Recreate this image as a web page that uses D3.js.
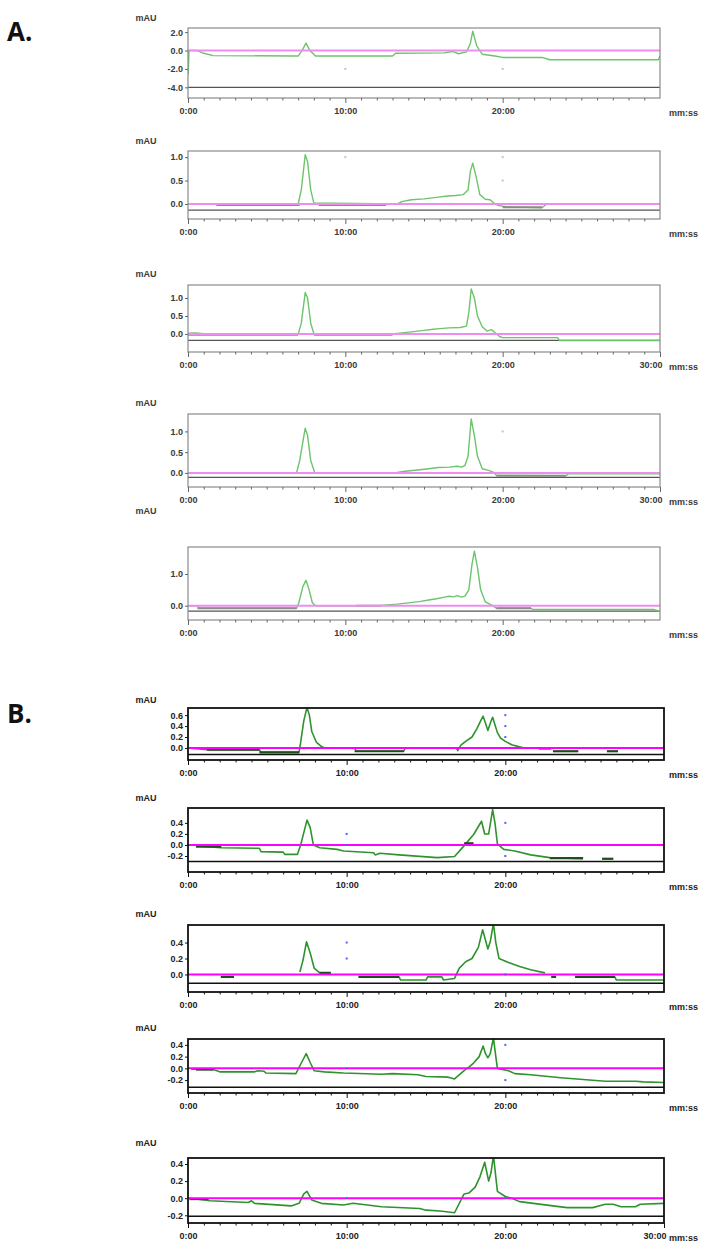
<!DOCTYPE html>
<html>
<head>
<meta charset="utf-8">
<script src="https://cdn.jsdelivr.net/npm/d3@7"></script>
<style>
  body { margin: 0; background: #fff; }
  svg text { font-family: "Liberation Sans", Arial, sans-serif; }
</style>
</head>
<body>
<svg id="chart" width="706" height="1250"></svg>
<script>
// ---- data: [minutes, mAU], null = no trace drawn ----
const traceA1 = [[0,0.1],[0.02,-2.5],[0.06,0.0],[0.6,0.0],[1.0,-0.3],[1.6,-0.55],[7.0,-0.6],[7.25,0.0],[7.5,0.8],[7.75,0.0],[8.1,-0.6],[13.0,-0.6],[13.2,-0.3],[16.3,-0.25],[16.8,-0.1],[17.2,-0.35],[17.7,-0.15],[17.95,0.8],[18.1,2.1],[18.35,0.5],[18.7,-0.4],[19.5,-0.6],[20.0,-0.75],[22.5,-0.75],[23.0,-1.0],[29.9,-1.0],[30,-0.6]];
const traceA2 = [[0,0],[7.0,0],[7.2,0.3],[7.45,1.05],[7.6,0.9],[7.8,0.3],[8.0,0.02],[13.3,0],[13.6,0.05],[14.2,0.09],[15.0,0.11],[15.8,0.14],[16.5,0.17],[17.0,0.18],[17.5,0.2],[17.8,0.3],[17.95,0.7],[18.1,0.87],[18.3,0.6],[18.55,0.2],[18.9,0.1],[19.2,0.09],[19.4,0.03],[19.7,-0.03],[20.2,-0.06],[22.5,-0.08],[22.8,0],[30,0]];
const traceA3 = [[0,0.02],[0.5,0.03],[1.0,0.01],[2.0,-0.01],[7.0,-0.01],[7.2,0.3],[7.45,1.15],[7.6,1.0],[7.8,0.3],[8.0,0.01],[12.0,-0.01],[13.0,0.0],[13.6,0.03],[14.2,0.06],[15.0,0.1],[15.6,0.13],[16.0,0.15],[16.6,0.17],[17.3,0.18],[17.7,0.22],[17.85,0.6],[18.0,1.25],[18.2,1.0],[18.4,0.5],[18.7,0.2],[19.0,0.08],[19.3,0.12],[19.5,0.04],[19.8,-0.07],[20.0,-0.1],[23.5,-0.1],[23.6,-0.18],[30,-0.18]];
const traceA4 = [[0,0],[6.9,0],[7.1,0.3],[7.45,1.08],[7.6,0.9],[7.8,0.3],[8.05,0.01],[12.5,0],[13.1,0.0],[13.8,0.04],[14.6,0.07],[15.3,0.1],[15.9,0.13],[16.6,0.14],[17.1,0.16],[17.4,0.14],[17.6,0.18],[17.8,0.4],[18.0,1.3],[18.2,0.9],[18.4,0.4],[18.7,0.1],[19.1,0.06],[19.4,0.02],[19.6,-0.06],[24.0,-0.07],[24.2,-0.02],[30,-0.02]];
const traceA5 = [[0,0],[0.6,0],[0.7,-0.08],[6.9,-0.08],[7.05,0.1],[7.3,0.6],[7.5,0.8],[7.7,0.5],[7.9,0.1],[8.1,0.0],[10.7,0.0],[12.3,0.01],[13.3,0.05],[14.0,0.09],[14.7,0.13],[15.3,0.18],[15.8,0.22],[16.3,0.27],[16.6,0.3],[16.9,0.28],[17.1,0.32],[17.4,0.27],[17.6,0.3],[17.85,0.5],[18.05,1.3],[18.2,1.72],[18.4,1.2],[18.6,0.5],[18.9,0.12],[19.3,0.02],[19.6,-0.08],[21.8,-0.08],[21.9,-0.12],[29.6,-0.12],[30,-0.18]];

const traceB1 = [[0,0.0],[1.2,-0.03],[4.5,-0.03],[4.6,-0.08],[7.0,-0.08],[7.1,0.1],[7.3,0.5],[7.5,0.74],[7.65,0.6],[7.8,0.3],[8.1,0.1],[8.4,0.03],[8.6,0.0],[10.5,0.0],[10.6,-0.06],[13.6,-0.06],[13.7,0.0],[16.9,0.0],[17.0,-0.05],[17.2,0.05],[17.5,0.12],[17.9,0.2],[18.2,0.35],[18.45,0.5],[18.6,0.58],[18.75,0.45],[18.9,0.32],[19.05,0.45],[19.2,0.56],[19.35,0.42],[19.5,0.28],[19.7,0.18],[20.0,0.12],[20.4,0.06],[20.9,0.02],[21.2,0.0],[30,0.0]];
const traceB2 = [[0.5,-0.02],[2.1,-0.05],[4.5,-0.06],[4.6,-0.12],[6.0,-0.13],[6.1,-0.17],[6.9,-0.17],[7.1,0.0],[7.25,0.17],[7.5,0.45],[7.7,0.32],[7.9,0.0],[8.3,-0.05],[9.4,-0.08],[9.8,-0.11],[11.7,-0.14],[11.8,-0.18],[12.1,-0.15],[13.3,-0.18],[15.7,-0.23],[16.8,-0.21],[17.2,-0.08],[17.5,0.02],[18.0,0.19],[18.5,0.43],[18.7,0.2],[18.95,0.2],[19.2,0.64],[19.35,0.39],[19.5,0.02],[19.9,-0.08],[20.6,-0.11],[21.6,-0.18],[22.8,-0.23],[24.9,-0.25],[25.0,null],[26.1,-0.25],[26.8,-0.25]];
const traceB3 = [[2.07,-0.03],[2.9,-0.03],[3.0,null],[7.05,0.03],[7.25,0.18],[7.47,0.41],[7.7,0.27],[7.95,0.08],[8.3,0.02],[9.0,0.02],[9.1,null],[10.75,-0.03],[13.3,-0.03],[13.4,-0.07],[15.0,-0.07],[15.1,-0.03],[16.0,-0.03],[16.1,-0.07],[16.8,-0.05],[17.1,0.08],[17.5,0.16],[17.9,0.2],[18.3,0.34],[18.57,0.56],[18.9,0.32],[19.06,0.42],[19.25,0.64],[19.4,0.4],[19.6,0.2],[20.2,0.15],[20.9,0.1],[21.6,0.06],[22.5,0.02],[22.6,null],[22.9,-0.03],[23.2,-0.03],[23.3,null],[24.4,-0.03],[26.9,-0.03],[27.0,-0.07],[30,-0.07]];
const traceB4 = [[0.2,-0.015],[1.6,-0.02],[2.0,-0.06],[4.2,-0.06],[4.4,-0.04],[4.8,-0.05],[4.9,-0.08],[6.8,-0.09],[7.1,0.07],[7.45,0.25],[7.7,0.1],[7.95,-0.04],[8.6,-0.06],[9.8,-0.08],[12.2,-0.1],[12.9,-0.09],[14.5,-0.11],[15.0,-0.14],[16.4,-0.15],[16.8,-0.18],[17.4,-0.04],[17.7,0.02],[18.0,0.09],[18.35,0.2],[18.6,0.38],[18.75,0.25],[18.9,0.18],[19.05,0.25],[19.25,0.52],[19.4,0.2],[19.5,0.0],[20.2,-0.04],[20.6,-0.09],[21.6,-0.11],[23.5,-0.16],[26.3,-0.22],[28.2,-0.22],[28.7,-0.23],[30,-0.24]];
const traceB5 = [[0.0,0.0],[0.5,-0.01],[1.4,-0.03],[3.8,-0.05],[4.0,-0.03],[4.2,-0.06],[6.5,-0.09],[7.0,-0.06],[7.3,0.05],[7.5,0.08],[7.8,-0.02],[8.4,-0.06],[9.8,-0.08],[10.4,-0.06],[12.2,-0.1],[14.6,-0.12],[15.0,-0.14],[15.9,-0.15],[16.8,-0.17],[17.4,0.05],[17.7,0.06],[18.1,0.13],[18.4,0.25],[18.7,0.42],[18.95,0.2],[19.1,0.3],[19.25,0.5],[19.5,0.08],[20.0,0.02],[20.4,0.0],[20.9,-0.04],[23.0,-0.09],[23.9,-0.11],[25.5,-0.11],[26.3,-0.07],[26.8,-0.07],[27.3,-0.1],[28.2,-0.1],[28.5,-0.07],[30,-0.06]];

// integrator baseline pieces: [from, to, mAU]
const baseA1 = [];
const baseA2 = [[1.8,7.1,-0.02],[8.3,12.6,-0.02],[20.0,22.5,-0.07]];
const baseA3 = [[0,7.0,-0.02],[8.0,13.0,-0.02]];
const baseA4 = [[0.5,6.9,0.0],[8.2,12.5,0.0],[19.6,24.0,-0.07]];
const baseA5 = [[0.6,6.9,-0.08],[10.7,12.3,0.0],[19.6,21.8,-0.08]];
const baseB1 = [[1.2,4.5,-0.03],[4.5,7.0,-0.08],[10.5,13.6,-0.06],[22.1,22.9,-0.01],[23.0,24.6,-0.06],[26.4,27.1,-0.06]];
const baseB2 = [[0.5,2.1,-0.03],[17.4,18.0,0.03],[22.8,24.9,-0.24],[26.1,26.8,-0.25]];
const baseB3 = [[2.07,2.9,-0.03],[8.3,9.0,0.02],[10.75,13.3,-0.03],[22.9,23.2,-0.03],[24.4,26.9,-0.03]];
const baseB4 = [[0.5,1.6,-0.02]];
const baseB5 = [[0.1,1.3,-0.01]];

// small grid markers [minutes, mAU]
const dotsA1 = [[10,-2.0],[20,-2.0]];
const dotsA2 = [[10,1.0],[20,1.0],[20,0.5]];
const dotsA3 = [];
const dotsA4 = [[20,1.0]];
const dotsA5 = [];
const dotsB1 = [[20,0.6],[20,0.4],[20,0.2]];
const dotsB2 = [[10,0.2],[10,0.0],[20,0.4],[20,-0.2]];
const dotsB3 = [[10,0.4],[10,0.2],[20,0.0]];
const dotsB4 = [[10,0.0],[20,0.4],[20,-0.2]];
const dotsB5 = [[10,0.0],[20,0.0]];

// axes
const yTicksA1 = [2.0, 0.0, -2.0, -4.0];
const yTicksA2 = [1.0, 0.5, 0.0];
const yTicksA3 = [1.0, 0.5, 0.0];
const yTicksA4 = [1.0, 0.5, 0.0];
const yTicksA5 = [1.0, 0.0];
const yTicksB1 = [0.6, 0.4, 0.2, 0.0];
const yTicksB2 = [0.4, 0.2, 0.0, -0.2];
const yTicksB3 = [0.4, 0.2, 0.0];
const yTicksB4 = [0.4, 0.2, 0.0, -0.2];
const yTicksB5 = [0.4, 0.2, 0.0, -0.2];
const yRangeA = [[-5.16, 2.45], [-0.32, 1.13], [-0.5, 1.36], [-0.34, 1.42], [-0.45, 1.85]];
const yRangeB = [[-0.22, 0.73], [-0.49, 0.67], [-0.22, 0.62], [-0.42, 0.5], [-0.29, 0.47]];
const floorA = [-4.0, -0.13, -0.18, -0.11, -0.17];
const floorB = [-0.12, -0.3, -0.11, -0.32, -0.21];
const xTicks20 = [0, 10, 20];
const xTicks30 = [0, 10, 20, 30];

// ---- page layout (px) ----
const framesA = [
    { top: 28, axis: 98, mau: 18 },
    { top: 151, axis: 219, mau: 141 },
    { top: 285, axis: 352, mau: 274 },
    { top: 414, axis: 487, mau: 403 },
    { top: 547, axis: 620, mau: 511 }
];
const framesB = [
    { top: 708, axis: 760, mau: 700 },
    { top: 808, axis: 872, mau: 798 },
    { top: 925, axis: 992, mau: 914 },
    { top: 1039, axis: 1093, mau: 1028 },
    { top: 1158, axis: 1223, mau: 1143 }
];

const styleA = {
    x0: 188, x1: 660, box: "#8a8a8a", boxW: 1.2, floor: "#555", floorW: 1.2,
    trace: "#6cc46c", traceW: 1.4, base: "#8c8c8c", baseW: 2,
    magenta: "#f08cf0", magW: 2, dot: "#c4c4c4", ink: "#3a3a3a", tick: "#666"
};
const styleB = {
    x0: 188, x1: 664, box: "#111", boxW: 1.8, floor: "#111", floorW: 1.5,
    trace: "#2e932e", traceW: 1.6, base: "#1d4f1d", baseW: 2.2,
    magenta: "#ff00ff", magW: 2, dot: "#5a5aff", ink: "#222", tick: "#111"
};

const panels = [
    { trace: traceA1, base: baseA1, dots: dotsA1, yTicks: yTicksA1, xTicks: xTicks20, style: styleA },
    { trace: traceA2, base: baseA2, dots: dotsA2, yTicks: yTicksA2, xTicks: xTicks20, style: styleA },
    { trace: traceA3, base: baseA3, dots: dotsA3, yTicks: yTicksA3, xTicks: xTicks30, style: styleA },
    { trace: traceA4, base: baseA4, dots: dotsA4, yTicks: yTicksA4, xTicks: xTicks30, style: styleA },
    { trace: traceA5, base: baseA5, dots: dotsA5, yTicks: yTicksA5, xTicks: xTicks20, style: styleA },
    { trace: traceB1, base: baseB1, dots: dotsB1, yTicks: yTicksB1, xTicks: xTicks20, style: styleB },
    { trace: traceB2, base: baseB2, dots: dotsB2, yTicks: yTicksB2, xTicks: xTicks20, style: styleB },
    { trace: traceB3, base: baseB3, dots: dotsB3, yTicks: yTicksB3, xTicks: xTicks20, style: styleB },
    { trace: traceB4, base: baseB4, dots: dotsB4, yTicks: yTicksB4, xTicks: xTicks20, style: styleB },
    { trace: traceB5, base: baseB5, dots: dotsB5, yTicks: yTicksB5, xTicks: xTicks30, style: styleB }
];
panels.forEach((p, i) => {
    const k = i % 5;
    const isA = i < 5;
    p.frame = isA ? framesA[k] : framesB[k];
    p.yDomain = isA ? yRangeA[k] : yRangeB[k];
    p.floor = isA ? floorA[k] : floorB[k];
});

const svg = d3.select("#chart");

// section letters
svg.append("text").attr("x", 7).attr("y", 41).text("A.")
    .style("font-family", "'Open Sans', 'Liberation Sans', sans-serif")
    .attr("font-size", 26).attr("font-weight", "bold").attr("fill", "#111");
svg.append("text").attr("x", 7).attr("y", 723).text("B.")
    .style("font-family", "'Open Sans', 'Liberation Sans', sans-serif")
    .attr("font-size", 26).attr("font-weight", "bold").attr("fill", "#111");

function styleText(sel, s) {
    sel.attr("font-size", 9).attr("font-weight", "bold").attr("fill", s.ink)
        .style("font-family", "'Liberation Sans', Arial, sans-serif");
}

panels.forEach((p, i) => {
    const s = p.style, f = p.frame;
    const x = d3.scaleLinear().domain([0, 30]).range([s.x0, s.x1]);
    const y = d3.scaleLinear().domain(p.yDomain).range([f.axis, f.top]);
    const g = svg.append("g");

    // clip the trace to the plot box
    const clipId = "clip" + i;
    svg.append("clipPath").attr("id", clipId)
        .append("rect").attr("x", s.x0).attr("y", f.top)
        .attr("width", s.x1 - s.x0).attr("height", f.axis - f.top);

    // floor line
    g.append("line")
        .attr("x1", s.x0).attr("x2", s.x1)
        .attr("y1", y(p.floor)).attr("y2", y(p.floor))
        .attr("stroke", s.floor).attr("stroke-width", s.floorW);

    const plot = g.append("g").attr("clip-path", `url(#${clipId})`);

    // chromatogram trace
    const line = d3.line()
        .defined(d => d[1] !== null)
        .x(d => x(d[0])).y(d => y(d[1]));
    plot.append("path").datum(p.trace)
        .attr("d", line)
        .attr("fill", "none").attr("stroke", s.trace)
        .attr("stroke-width", s.traceW).attr("stroke-linejoin", "round");

    // baseline pieces
    plot.selectAll(".base").data(p.base).enter().append("line")
        .attr("x1", d => x(d[0])).attr("x2", d => x(d[1]))
        .attr("y1", d => y(d[2])).attr("y2", d => y(d[2]))
        .attr("stroke", s.base).attr("stroke-width", s.baseW);

    // zero line
    plot.append("line")
        .attr("x1", s.x0).attr("x2", s.x1)
        .attr("y1", y(0)).attr("y2", y(0))
        .attr("stroke", s.magenta).attr("stroke-width", s.magW);

    // grid markers
    plot.selectAll(".dot").data(p.dots).enter().append("rect")
        .attr("x", d => x(d[0]) - 1).attr("y", d => y(d[1]) - 1)
        .attr("width", 2).attr("height", 2).attr("fill", s.dot);

    // frame
    g.append("rect")
        .attr("x", s.x0).attr("y", f.top)
        .attr("width", s.x1 - s.x0).attr("height", f.axis - f.top)
        .attr("fill", "none").attr("stroke", s.box).attr("stroke-width", s.boxW);

    // y axis
    const yAxis = g.append("g").attr("transform", `translate(${s.x0},0)`)
        .call(d3.axisLeft(y).tickValues(p.yTicks).tickSize(3).tickPadding(2)
            .tickFormat(d => d.toFixed(1)));
    yAxis.select(".domain").remove();
    yAxis.selectAll("line").attr("stroke", s.tick);
    styleText(yAxis.selectAll("text"), s);

    // x axis: minute ticks + labelled 10-minute ticks
    const minor = d3.range(1, 30).filter(m => m % 10 !== 0);
    const xMinor = g.append("g").attr("transform", `translate(0,${f.axis})`)
        .call(d3.axisBottom(x).tickValues(minor).tickSize(2.5).tickFormat(""));
    xMinor.select(".domain").remove();
    xMinor.selectAll("line").attr("stroke", s.tick);

    const xAxis = g.append("g").attr("transform", `translate(0,${f.axis})`)
        .call(d3.axisBottom(x).tickValues(p.xTicks).tickSize(5).tickPadding(5)
            .tickFormat(m => m + ":00"));
    xAxis.select(".domain").remove();
    xAxis.selectAll("line").attr("stroke", s.tick);
    styleText(xAxis.selectAll("text"), s);
    // the last label sits just left of the axis end, before "mm:ss"
    xAxis.selectAll(".tick").filter(d => d === 30).select("text")
        .attr("text-anchor", "end").attr("x", 2);

    // unit labels
    styleText(g.append("text").attr("x", 146).attr("y", f.mau + 3)
        .attr("text-anchor", "middle").text("mAU"), s);
    styleText(g.append("text").attr("x", 669).attr("y", f.axis + 18).text("mm:ss"), s);
});
</script>
</body>
</html>
